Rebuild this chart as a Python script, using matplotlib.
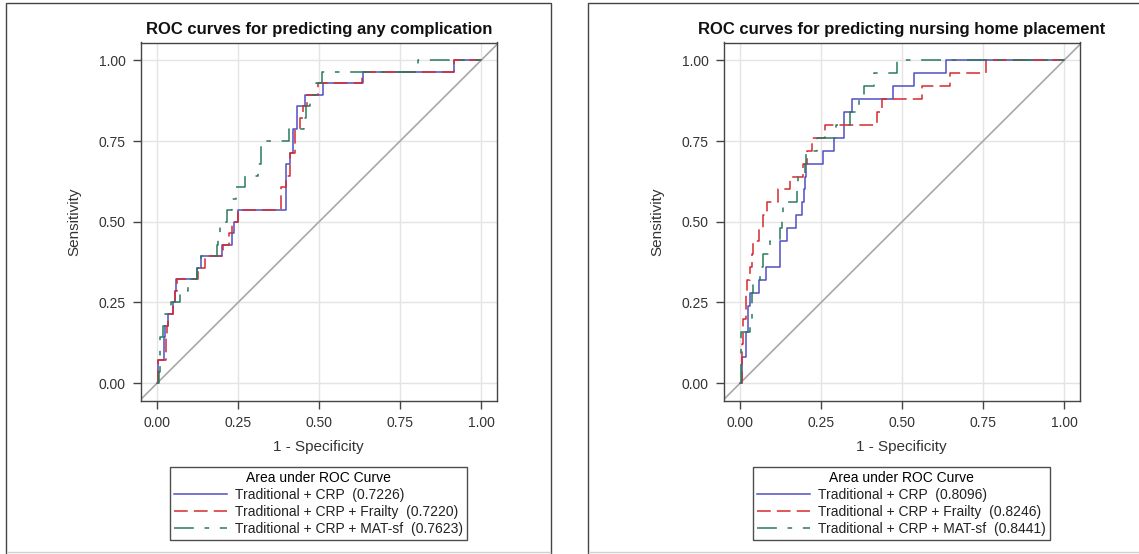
import matplotlib
matplotlib.use("Agg")
import matplotlib.pyplot as plt
from matplotlib.patches import Rectangle
from matplotlib.lines import Line2D

plt.rcParams['font.family'] = ['Liberation Sans', 'DejaVu Sans']

# ---- data: ROC points (1 - specificity, true positive count) ----
# left panel: any complication, 28 positives
comp_npos = 28
comp_trad_fpr = [0, 0.003, 0.022, 0.026, 0.034, 0.05, 0.055, 0.06, 0.122, 0.137, 0.2, 0.23,
                 0.239, 0.251, 0.397, 0.41, 0.42, 0.431, 0.457, 0.513, 0.634, 0.915, 1.0]
comp_trad_tp = [0, 2, 4, 5, 6, 7, 8, 9, 10, 11, 12, 13,
                14, 15, 19, 20, 22, 24, 25, 26, 27, 28, 28]
comp_frail_fpr = [0, 0.003, 0.028, 0.031, 0.035, 0.05, 0.056, 0.061, 0.127, 0.148, 0.205, 0.222,
                  0.232, 0.25, 0.383, 0.397, 0.41, 0.425, 0.44, 0.451, 0.462, 0.497, 0.633, 0.915, 1.0]
comp_frail_tp = [0, 2, 4, 5, 6, 7, 8, 9, 10, 11, 12, 13,
                 14, 15, 17, 18, 20, 22, 23, 24, 25, 26, 27, 28, 28]
comp_mat_fpr = [0, 0.005, 0.010, 0.018, 0.024, 0.044, 0.070, 0.096, 0.122, 0.137, 0.186, 0.189,
                0.194, 0.215, 0.230, 0.244, 0.272, 0.313, 0.320, 0.406, 0.452, 0.46, 0.473, 0.49,
                0.509, 0.804, 1.0]
comp_mat_tp = [0, 1, 4, 5, 6, 7, 8, 9, 10, 11, 12, 13,
               14, 15, 16, 17, 18, 19, 21, 22, 23, 24, 25, 26,
               27, 28, 28]
comp_auc = [0.7226, 0.7220, 0.7623]

# right panel: nursing home placement, 25 positives
nh_npos = 25
nh_trad_fpr = [0, 0.005, 0.019, 0.025, 0.031, 0.057, 0.080, 0.123, 0.146, 0.173, 0.19, 0.198,
               0.201, 0.204, 0.255, 0.29, 0.322, 0.345, 0.471, 0.538, 0.636, 1.0]
nh_trad_tp = [0, 2, 4, 6, 7, 8, 9, 11, 12, 13, 14, 15,
              16, 17, 18, 19, 21, 22, 23, 24, 25, 25]
nh_frail_fpr = [0, 0.005, 0.01, 0.018, 0.021, 0.031, 0.037, 0.041, 0.057, 0.072, 0.082, 0.118,
                0.154, 0.195, 0.206, 0.221, 0.262, 0.422, 0.437, 0.561, 0.648, 0.758, 1.0]
nh_frail_tp = [0, 3, 5, 7, 8, 9, 10, 11, 12, 13, 14, 15,
               16, 17, 18, 19, 20, 21, 22, 23, 24, 25, 25]
nh_mat_fpr = [0, 0.002, 0.031, 0.036, 0.041, 0.062, 0.072, 0.092, 0.123, 0.128, 0.133, 0.177,
              0.18, 0.2, 0.204, 0.237, 0.296, 0.34, 0.368, 0.381, 0.412, 0.484, 1.0]
nh_mat_tp = [0, 4, 5, 7, 8, 9, 10, 11, 12, 13, 14, 15,
             16, 17, 18, 19, 20, 21, 22, 23, 24, 25, 25]
nh_auc = [0.8096, 0.8246, 0.8441]

model_names = ["Traditional + CRP", "Traditional + CRP + Frailty", "Traditional + CRP + MAT-sf"]
titles = ["ROC curves for predicting any complication",
          "ROC curves for predicting nursing home placement"]
ticks = [0.0, 0.25, 0.5, 0.75, 1.0]
tick_labels = ["0.00", "0.25", "0.50", "0.75", "1.00"]

colors = ["#4f4fc4", "#d42a2e", "#2a7a5e"]
styles = ["-", (0, (9, 4)), (0, (13, 7, 3, 7))]

W, H = 1139, 554
fig = plt.figure(figsize=(W / 100, H / 100), dpi=100)

# panel frames
for x0, x1 in [(6, 551), (588, 1160)]:
    fig.add_artist(Rectangle((x0 / W, -0.05), (x1 - x0) / W, 1.05 - 3 / H,
                             transform=fig.transFigure, fill=False,
                             edgecolor="#444444", lw=1.0))
    fig.add_artist(Line2D([x0 / W + 0.001, min(x1, W) / W - 0.001], [1 - 552 / H] * 2,
                          transform=fig.transFigure, color="#d0d0d0", lw=1.0))

panels = [
    (140.5, titles[0], comp_npos,
     [(comp_trad_fpr, comp_trad_tp), (comp_frail_fpr, comp_frail_tp), (comp_mat_fpr, comp_mat_tp)],
     comp_auc),
    (723.5, titles[1], nh_npos,
     [(nh_trad_fpr, nh_trad_tp), (nh_frail_fpr, nh_frail_tp), (nh_mat_fpr, nh_mat_tp)],
     nh_auc),
]

for left_px, title, npos, curves, aucs in panels:
    ax = fig.add_axes([left_px / W, 1 - 401 / H, 356.5 / W, 358.5 / H])
    ax.set_xlim(-0.051, 1.049)
    ax.set_ylim(-0.055, 1.055)
    ax.plot([-0.2, 1.2], [-0.2, 1.2], color="#a8a8a8", lw=1.2, zorder=2)
    for (fpr, tp), col, ls, name, auc in zip(curves, colors, styles, model_names, aucs):
        tpr = [t / npos for t in tp]
        ax.plot(fpr, tpr, drawstyle="steps-post", color=col, lw=1.1, linestyle=ls,
                label=f"{name}  ({auc:.4f})", zorder=3)

    ax.set_xticks(ticks)
    ax.set_xticklabels(tick_labels)
    ax.set_yticks(ticks)
    ax.set_yticklabels(tick_labels)
    ax.grid(True, color="#e4e4e4", lw=1.0)
    ax.set_axisbelow(True)
    ax.tick_params(direction="out", length=6, width=1, color="#444444",
                   labelsize=10, labelcolor="#333333", pad=4.5)
    for sp in ax.spines.values():
        sp.set_color("#444444")
        sp.set_linewidth(1.0)

    ax.set_title(title, fontsize=12, fontweight="bold", pad=6, color="#111111")
    ax.set_xlabel("1 - Specificity", fontsize=11, color="#333333")
    ax.set_ylabel("Sensitivity", fontsize=11, color="#333333")
    ax.xaxis.set_label_coords(0.5, -0.11)
    ax.yaxis.set_label_coords(-0.165, 0.5)

    leg = ax.legend(loc="upper center", bbox_to_anchor=(0.5, -0.184),
                    title="Area under ROC Curve", title_fontsize=10, fontsize=10,
                    frameon=True, fancybox=False, edgecolor="#222222",
                    handlelength=3.8, handletextpad=0.6, labelspacing=0.22,
                    borderpad=0.3, borderaxespad=0)
    leg.get_frame().set_linewidth(1.0)
    for t in leg.get_texts():
        t.set_color("#222222")

fig.savefig("out.png", dpi=100)
